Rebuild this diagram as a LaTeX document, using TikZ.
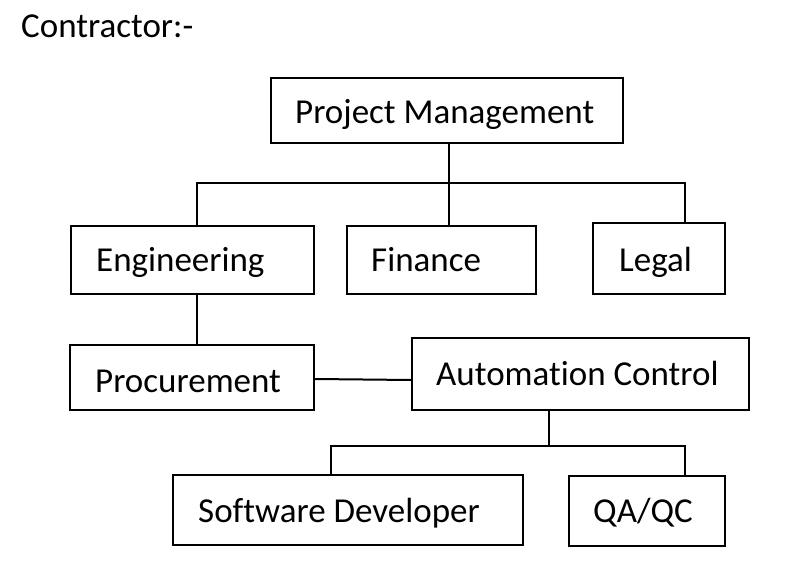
\documentclass[tikz,border=0pt]{standalone}
\usepackage{fontspec}
\setmainfont[Ligatures=NoCommon]{Carlito}
\begin{document}
\begin{tikzpicture}[x=1pt,y=-1pt,
  box/.style={draw=black,line width=2pt,inner sep=0pt},
  lbl/.style={anchor=base west,inner sep=0pt,font=\fontsize{35}{41}\selectfont},
  conn/.style={draw=black,line width=2pt}]
\useasboundingbox[fill=white] (0,0) rectangle (804,567);
\newcommand{\boxat}[5]{\node[box,minimum width={#4-#2},minimum height={#5-#3}] (#1) at ({(#2+#4)/2},{(#3+#5)/2}) {};}
\boxat{pm}{271}{78}{623}{143}
\boxat{eng}{71}{226}{314}{294}
\boxat{fin}{347}{226}{536}{294}
\boxat{leg}{593}{223}{725}{294}
\boxat{proc}{70}{345}{314}{410}
\boxat{ac}{412}{338}{749}{410}
\boxat{sd}{173}{475}{523}{545}
\boxat{qa}{569}{476}{725}{546}
\node[lbl] (title) at (21,38) {Contractor:-};
\node[lbl] (tpm) at (295,124) {Project Management};
\node[lbl] (teng) at (96,272) {Engineering};
\node[lbl] (tfin) at (371,272) {Finance};
\node[lbl] (tleg) at (619,271) {Legal};
\node[lbl] (tproc) at (95,392) {Procurement};
\node[lbl] (tac) at (436,385) {Automation Control};
\node[lbl] (tsd) at (198,522) {Software Developer};
\node[lbl] (tqa) at (593,522) {QA/QC};
\coordinate (b1L) at (197,183);
\coordinate (b1M) at (449,183);
\coordinate (b1R) at (685,183);
\coordinate (b2L) at (331,446);
\coordinate (b2M) at (549,446);
\coordinate (b2R) at (685,446);
\draw[conn] (b1M |- pm.south) -- (b1M |- fin.north);
\draw[conn] (b1L |- eng.north) -- (b1L) -- (b1R) -- (b1R |- leg.north);
\draw[conn] (b1L |- eng.south) -- (b1L |- proc.north);
\draw[conn] (proc.east |- 0,379) -- (ac.west |- 0,380);
\draw[conn] (b2M |- ac.south) -- (b2M);
\draw[conn] (b2L |- sd.north) -- (b2L) -- (b2R) -- (b2R |- qa.north);
\end{tikzpicture}
\end{document}
